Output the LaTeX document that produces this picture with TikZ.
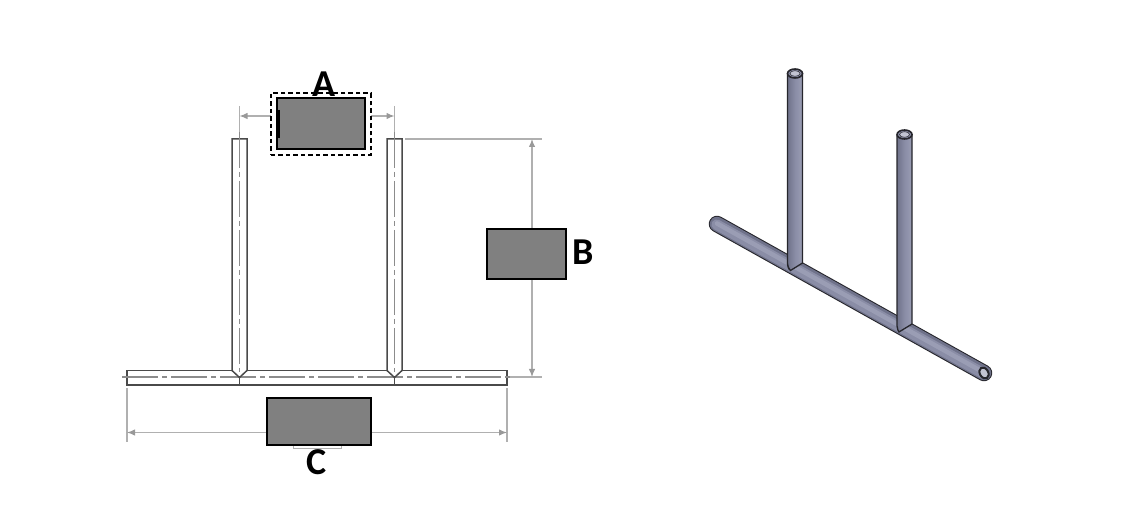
\documentclass[tikz,border=0pt]{standalone}
\usepackage{fontspec}
\setmainfont{Carlito}
\usetikzlibrary{arrows.meta}
\definecolor{dimc}{HTML}{B0B0B0}
\definecolor{tubeo}{HTML}{4A4A4A}
\definecolor{cent}{HTML}{8C8C8C}
\definecolor{steel}{HTML}{8A8DA6}
\definecolor{steeld}{HTML}{6F728A}
\definecolor{steell}{HTML}{9A9DB4}
\definecolor{edgec}{HTML}{26262C}
\tikzset{
  graybox/.style={draw=black,line width=2pt,fill=gray,inner sep=0,minimum width=#1},
  dimline/.style={draw=dimc,line width=1.2pt},
  extline/.style={draw=dimc,line width=1.1pt},
  dimarrow/.style={dimline,{Latex[length=8pt,width=6.5pt,color=gray!80]}-{Latex[length=8pt,width=6.5pt,color=gray!80]}},
  tube/.style={draw=tubeo,line width=1.5pt,fill=white},
  centre/.style={draw=cent,line width=1.1pt,dash pattern=on 36pt off 4pt on 5pt off 4pt},
  lab/.style={font=\fontsize{38}{38}\selectfont\bfseries,text=black,inner sep=0},
  pipe/.style={draw=edgec,line width=1.3pt,left color=steeld,right color=steell,middle color=steel},
}
\begin{document}
\begin{tikzpicture}[x=1pt,y=-1pt]
\useasboundingbox (0,0) rectangle (1124,518);
% named anchor points
\coordinate (ta) at (239.5,106);
\coordinate (tb) at (394.5,106);
\coordinate (aL) at (239.5,116);
\coordinate (aR) at (394.5,116);
\coordinate (bT) at (532,139);
\coordinate (bB) at (532,377);
\coordinate (eT0) at (405,139);
\coordinate (eT1) at (542,139);
\coordinate (eB0) at (405,377);
\coordinate (eB1) at (542,377);
\coordinate (cL) at (127,432.5);
\coordinate (cR) at (507,432.5);
\coordinate (c0) at (127,388);
\coordinate (c1) at (127,442);
\coordinate (c2) at (507,388);
\coordinate (c3) at (507,442);
% dimensions
\draw[extline] (ta) -- ++(0,33);
\draw[extline] (tb) -- ++(0,33);
\draw[dimarrow] (aL) -- (aR);
\draw[extline] (eT0) -- (eT1);
\draw[extline] (eB0) -- (eB1);
\draw[dimarrow] (bT) -- (bB);
\draw[extline] (c0) -- (c1);
\draw[extline] (c2) -- (c3);
\draw[dimarrow] (cL) -- (cR);
\draw[draw=dimc,line width=0.9pt] (293,444) -- (293,448) -- (341,448) -- (341,444);
% drawing
\draw[tube] (127,370.5) rectangle (507,385);
\draw[centre] (122,377) -- (512,377);
\foreach \x in {239.5,394.5}{
  \draw[tube] (\x-7.5,139) -- (\x+7.5,139) -- (\x+7.5,370.5) -- (\x,377.5) -- (\x-7.5,370.5) -- cycle;
  \draw[centre] (\x,132) -- (\x,372);
  \draw[draw=tubeo,line width=1.2pt] (\x,377.5) -- (\x,385);
}
% boxes A,B,C
\node[draw=black,line width=1.6pt,dash pattern=on 4.5pt off 3pt,minimum width=100pt,minimum height=62pt,inner sep=0,anchor=north west,fill=white] (abox) at (270,92.5) {};
\node[graybox=87.5pt,minimum height=51pt,anchor=north west] (agray) at (276,97.5) {};
\draw[black,line width=2.4pt] (278.5,110) -- (278.5,138);
\node[graybox=79pt,minimum height=49.5pt,anchor=north west] (bgray) at (486,228.5) {};
\node[graybox=104pt,minimum height=47.5pt,anchor=north west] (cgray) at (266,396.5) {};
\node[lab] (la) at (324,84.5) {A};
\node[lab] (lb) at (583,252.5) {B};
\node[lab] (lc) at (317,462.5) {C};
% 3D view: main pipe
\draw[edgec,line width=16.5pt,line cap=round] (717,224) -- (984,373);
\draw[steeld,line width=14.4pt,line cap=round] (717,224) -- (984,373);
\draw[steel,line width=10.5pt,line cap=round] (716.6,224.6) -- (983.6,373.6);
\draw[steell,line width=4.5pt,line cap=round] (717,223.5) -- (982,371.5);
\draw[draw=edgec,line width=2pt,fill=steell!60!white,rotate around={30:(984,373)}] (984,373) ellipse (4.2pt and 5.8pt);
% vertical pipes
\draw[pipe] (787.5,74) -- (787.5,264) .. controls (788,268) and (789,270) .. (790.5,270.5) -- (802.5,263) -- (802.5,74) -- cycle;
\draw[edgec,line width=0.7pt] (787.5,262) .. controls (787.5,266) and (789,268) .. (790.5,270.5);
\draw[draw=edgec,line width=1.6pt,fill=steel] (795,73.5) ellipse (7.5pt and 4.5pt);
\draw[draw=edgec,line width=0.5pt,fill=steell!60!white] (795,73.5) ellipse (5pt and 2.8pt);
\draw[pipe] (897,135) -- (897,326) .. controls (897.5,329) and (898,331) .. (899,332) -- (912,324) -- (912,135) -- cycle;
\draw[draw=edgec,line width=1.6pt,fill=steel] (904.5,134.5) ellipse (7.5pt and 4.5pt);
\draw[draw=edgec,line width=0.5pt,fill=steell!60!white] (904.5,134.5) ellipse (5pt and 2.8pt);
\end{tikzpicture}
\end{document}
